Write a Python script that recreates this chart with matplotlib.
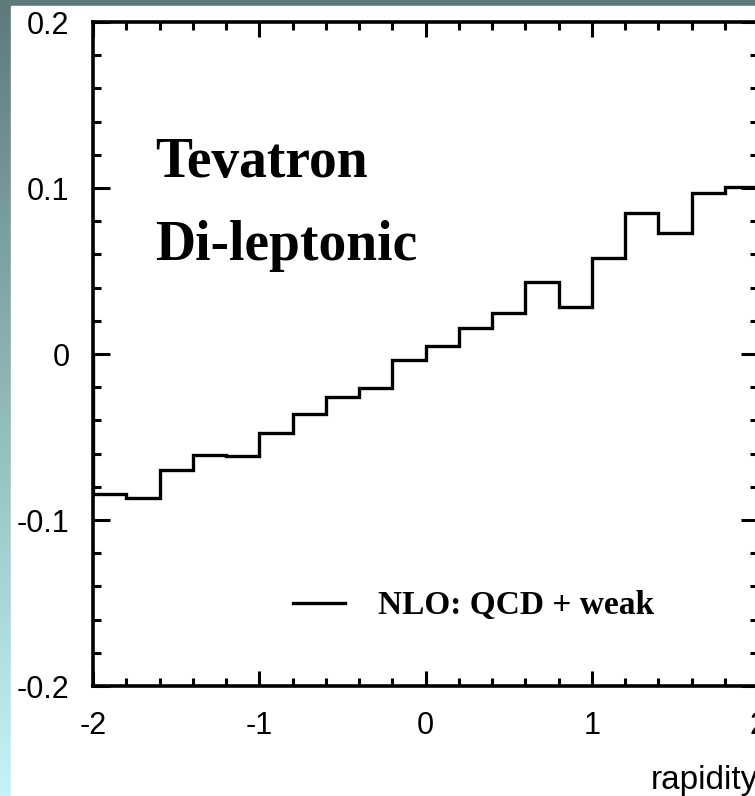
import numpy as np
import matplotlib
matplotlib.use("Agg")
import matplotlib.pyplot as plt
from matplotlib.patches import Rectangle
from matplotlib.ticker import MultipleLocator

# bin edges in rapidity and the NLO (QCD + weak) asymmetry per bin
rapidity_edges = np.linspace(-2.0, 2.0, 21)
nlo_qcd_weak = [-0.0845, -0.0869, -0.0699, -0.0610, -0.0612,
                -0.0478, -0.0363, -0.0257, -0.0207, -0.0036,
                0.0050, 0.0157, 0.0245, 0.0436, 0.0283,
                0.0576, 0.0851, 0.0727, 0.0968, 0.1004]

x_ticks = [-2, -1, 0, 1, 2]
x_tick_labels = ['-2', '-1', '0', '1', '2']
y_ticks = [-0.2, -0.1, 0.0, 0.1, 0.2]
y_tick_labels = ['-0.2', '-0.1', '0', '0.1', '0.2']

W, H = 755, 796
plt.rcParams['axes.unicode_minus'] = False

fig = plt.figure(figsize=(W / 100, H / 100), dpi=100)

# slide background: teal gradient with white panel on top
bg = fig.add_axes([0, 0, 1, 1], zorder=-10)
grad = np.linspace(0, 1, 256)[:, None]
top_col = np.array([94, 122, 122]) / 255
bot_col = np.array([194, 246, 246]) / 255
img = top_col[None, None, :] * (1 - grad[:, :, None]) + bot_col[None, None, :] * grad[:, :, None]
bg.imshow(img, aspect='auto', extent=[0, 1, 0, 1], origin='upper')
bg.add_patch(Rectangle((11 / W, 0), 1, (H - 6) / H, color='white', transform=bg.transAxes))
bg.set_xlim(0, 1)
bg.set_ylim(0, 1)
bg.axis('off')

left, right, top, bottom = 93, 758, 22, 686
ax = fig.add_axes([left / W, 1 - bottom / H, (right - left) / W, (bottom - top) / H])
ax.set_facecolor('white')

ax.stairs(nlo_qcd_weak, rapidity_edges, color='black', linewidth=2.4,
          label='NLO: QCD + weak')

ax.set_xlim(-2, 2)
ax.set_ylim(-0.2, 0.2)
ax.set_xticks(x_ticks)
ax.set_xticklabels(x_tick_labels)
ax.set_yticks(y_ticks)
ax.set_yticklabels(y_tick_labels)
ax.xaxis.set_minor_locator(MultipleLocator(0.2))
ax.yaxis.set_minor_locator(MultipleLocator(0.02))

for sp in ax.spines.values():
    sp.set_linewidth(2.6)
ax.tick_params(which='both', direction='in', top=True, right=True, width=2.2)
ax.tick_params(axis='x', which='major', length=11, pad=18)
ax.tick_params(axis='y', which='major', length=12, pad=17)
ax.tick_params(which='minor', length=6)
for lab in ax.get_xticklabels() + ax.get_yticklabels():
    lab.set_fontfamily('Liberation Sans')
    lab.set_fontsize(22)

ax.set_xlabel('rapidity', loc='right', fontsize=24, family='Liberation Sans', labelpad=17)

serif = dict(family='Liberation Serif', weight='bold', color='black')
ax.text(0.0932, 0.7666, 'Tevatron', transform=ax.transAxes, fontsize=40,
        ha='left', va='baseline', **serif)
ax.text(0.0932, 0.6416, 'Di-leptonic', transform=ax.transAxes, fontsize=40,
        ha='left', va='baseline', **serif)

ax.legend(loc='center left', bbox_to_anchor=(0.3008, 0.1205), frameon=False,
          borderpad=0, borderaxespad=0, handlelength=1.56, handletextpad=1.0,
          prop={'family': 'Liberation Serif', 'weight': 'bold', 'size': 24})

fig.savefig('out.png', dpi=100)
